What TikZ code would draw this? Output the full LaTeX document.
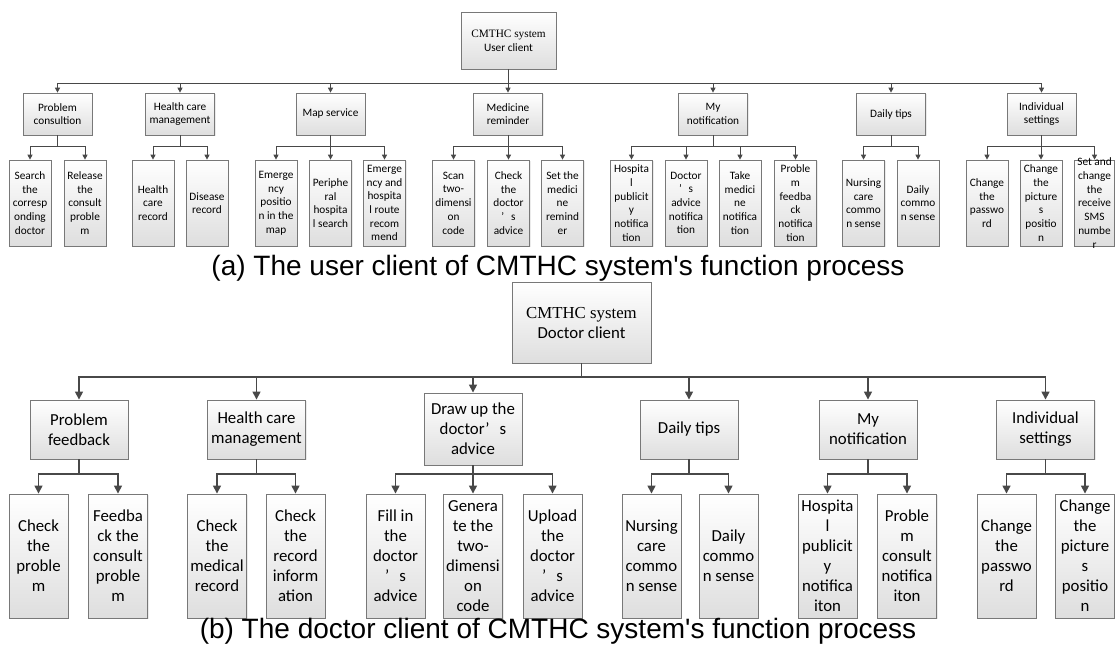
\documentclass[tikz,border=0pt]{standalone}
\usepackage{fontspec}
\setmainfont{Carlito}
\newfontfamily\serifrm{Liberation Serif}
\newfontfamily\capfont{Liberation Sans}
\usetikzlibrary{arrows.meta,shadows}

\definecolor{linecol}{RGB}{72,72,72}
\definecolor{boxline}{RGB}{120,120,120}
\definecolor{boxfill}{RGB}{222,222,222}

\tikzset{
  boxbase/.style={draw=boxline, top color=white, bottom color=boxfill,
    inner sep=0pt, align=center,
    drop shadow={shadow xshift=1pt, shadow yshift=-1pt, opacity=0.16}},
  % upper tree (user client)
  ubox/.style={boxbase, line width=0.7pt, font=\fontsize{11.3}{13.7}\selectfont},
  uroot/.style={ubox, minimum width=95pt, minimum height=57pt},
  umid/.style={ubox, minimum width=69pt, minimum height=42pt},
  uleaf/.style={ubox, minimum width=42pt, minimum height=86pt},
  uarr/.style={draw=linecol, line width=0.9pt, -{Triangle[length=5pt,width=5pt]}},
  % lower tree (doctor client)
  dbox/.style={boxbase, line width=0.9pt, font=\fontsize{16.8}{20}\selectfont},
  droot/.style={dbox, minimum width=139pt, minimum height=81pt},
  dmid/.style={dbox, minimum width=98pt, minimum height=59pt},
  dleaf/.style={dbox, minimum width=59pt, minimum height=124pt},
  darr/.style={draw=linecol, line width=1.5pt, -{Triangle[length=8pt,width=8pt]}},
  captxt/.style={font=\capfont\fontsize{28}{32}\selectfont, anchor=base}
}
\newcommand{\apos}{’\hspace{0.6em}}

\begin{document}
\begin{tikzpicture}[x=1pt,y=-1pt]
\useasboundingbox (0,0) rectangle (1115,649);

% ---------------- user client ----------------
\node[uroot] (A) at (508.5,40.5) {{\serifrm CMTHC system}\\User client};

\node[umid] (a1) at (57.5,114)  {Problem\\consultion};
\node[umid] (a2) at (180,114)   {Health care\\management};
\node[umid] (a3) at (330.5,114) {Map service};
\node[umid] (a4) at (508,114)   {Medicine\\reminder};
\node[umid] (a5) at (713,114)   {My\\notification};
\node[umid] (a6) at (891,114)   {Daily tips};
\node[umid] (a7) at (1041.5,114){Individual\\settings};

\node[uleaf] (a11) at (30,203)    {Search\\the\\corresp\\onding\\doctor};
\node[uleaf] (a12) at (85,203)    {Release\\the\\consult\\proble\\m};
\node[uleaf] (a21) at (153,203)   {Health\\care\\record};
\node[uleaf] (a22) at (207,203)   {Disease\\record};
\node[uleaf] (a31) at (276,203)   {Emerge\\ncy\\positio\\n in the\\map};
\node[uleaf] (a32) at (330.5,203) {Periphe\\ral\\hospita\\l search};
\node[uleaf] (a33) at (384.5,203) {Emerge\\ncy and\\hospita\\l route\\recom\\mend};
\node[uleaf] (a41) at (453.5,203) {Scan\\two-\\dimensi\\on\\code};
\node[uleaf] (a42) at (508.5,203) {Check\\the\\doctor\\\apos s\\advice};
\node[uleaf] (a43) at (562.5,203) {Set the\\medici\\ne\\remind\\er};
\node[uleaf] (a51) at (631.5,203) {Hospita\\l\\publicit\\y\\notifica\\tion};
\node[uleaf] (a52) at (686,203)   {Doctor\\\apos s\\advice\\notifica\\tion};
\node[uleaf] (a53) at (740,203)   {Take\\medici\\ne\\notifica\\tion};
\node[uleaf] (a54) at (795.5,203) {Proble\\m\\feedba\\ck\\notifica\\tion};
\node[uleaf] (a61) at (863.5,203) {Nursing\\care\\commo\\n sense};
\node[uleaf] (a62) at (918,203)   {Daily\\commo\\n sense};
\node[uleaf] (a71) at (987,203)   {Change\\the\\passwo\\rd};
\node[uleaf] (a72) at (1041,203)  {Change\\the\\picture\\s\\positio\\n};
\node[uleaf, minimum width=40pt] (a73) at (1094.5,203) {};
\node[font=\fontsize{11.3}{13.7}\selectfont, align=center, inner sep=0pt] (a73t) at (a73.center)
  {Set and\\change\\the\\receive\\SMS\\numbe\\r};

\foreach \c in {a1,a2,a3,a4,a5,a6,a7}
  \draw[uarr] (A.south) |- (\c.north |- 0,83) -- (\c.north);
\foreach \p/\kids in {a1/{a11,a12}, a2/{a21,a22}, a3/{a31,a32,a33},
                      a4/{a41,a42,a43}, a5/{a51,a52,a53,a54},
                      a6/{a61,a62}, a7/{a71,a72,a73}}
  \foreach \c in \kids
    \draw[uarr] (\p.south) |- (\c.north |- 0,146) -- (\c.north);

\node[captxt] (capA) at (558,275) {(a) The user client of CMTHC system's function process};

% ---------------- doctor client ----------------
\node[droot] (B) at (581.5,322.5) {{\serifrm CMTHC system}\\Doctor client};

\node[dmid] (b1) at (79,429.5)    {Problem\\feedback};
\node[dmid] (b2) at (256.5,429.5) {Health care\\management};
\node[dmid, minimum height=72pt] (b3) at (473,429) {Draw up the\\doctor\apos s\\advice};
\node[dmid] (b4) at (689,429.5)   {Daily tips};
\node[dmid] (b5) at (868,429.5)   {My\\notification};
\node[dmid] (b6) at (1045.5,429.5){Individual\\settings};

\node[dleaf] (b11) at (38.5,556)  {Check\\the\\proble\\m};
\node[dleaf] (b12) at (118,556)   {Feedba\\ck the\\consult\\proble\\m};
\node[dleaf] (b21) at (217,556)   {Check\\the\\medical\\record};
\node[dleaf] (b22) at (295.5,556) {Check\\the\\record\\inform\\ation};
\node[dleaf] (b31) at (395.5,556) {Fill in\\the\\doctor\\\apos s\\advice};
\node[dleaf] (b32) at (473,556)   {Genera\\te the\\two-\\dimensi\\on\\code};
\node[dleaf] (b33) at (552.5,556) {Upload\\the\\doctor\\\apos s\\advice};
\node[dleaf] (b41) at (651.5,556) {Nursing\\care\\commo\\n sense};
\node[dleaf] (b42) at (728.5,556) {Daily\\commo\\n sense};
\node[dleaf] (b51) at (827.5,556) {Hospita\\l\\publicit\\y\\notifica\\iton};
\node[dleaf] (b52) at (907,556)   {Proble\\m\\consult\\notifica\\iton};
\node[dleaf] (b61) at (1006.5,556){Change\\the\\passwo\\rd};
\node[dleaf] (b62) at (1085,556)  {Change\\the\\picture\\s\\positio\\n};

\foreach \c in {b1,b2,b3,b4,b5,b6}
  \draw[darr] (B.south) |- (\c.north |- 0,377) -- (\c.north);
\foreach \p/\kids in {b1/{b11,b12}, b2/{b21,b22}, b3/{b31,b32,b33},
                      b4/{b41,b42}, b5/{b51,b52}, b6/{b61,b62}}
  \foreach \c in \kids
    \draw[darr] (\p.south) |- (\c.north |- 0,474) -- (\c.north);

\node[captxt] (capB) at (558,638) {(b) The doctor client of CMTHC system's function process};
\end{tikzpicture}
\end{document}
